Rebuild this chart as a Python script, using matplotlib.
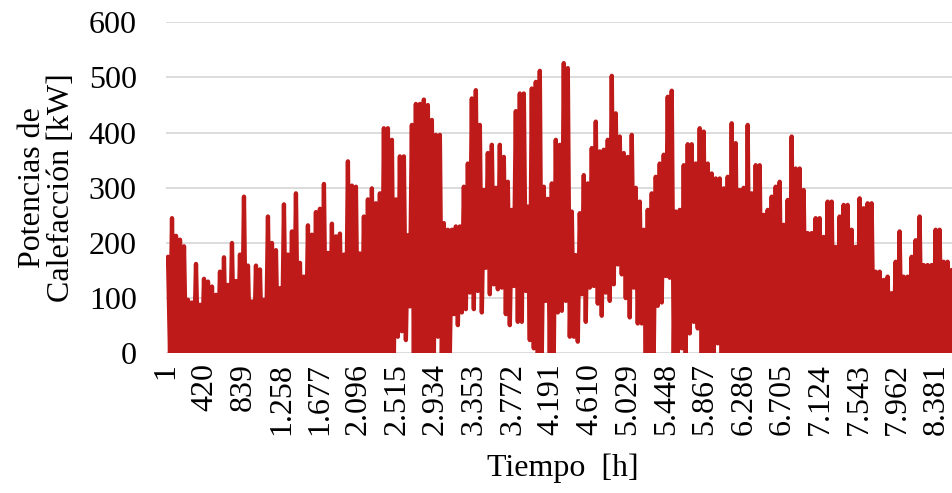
import numpy as np
import matplotlib
matplotlib.use("Agg")
import matplotlib.pyplot as plt

# ---- Data (heating power, kW) ----
# Daily-scale peak values, sampled every ~43.5 h starting at hour ~23
pico = [
    175, 245, 213, 206, 194, 97, 92, 162, 88, 135,
    130, 121, 106, 148, 174, 124, 200, 131, 179, 284,
    159, 94, 159, 152, 97, 248, 200, 187, 118, 270,
    179, 221, 290, 164, 139, 232, 215, 256, 262, 307,
    182, 235, 212, 217, 179, 348, 304, 302, 181, 248,
    279, 299, 272, 290, 408, 408, 387, 279, 357, 357,
    214, 414, 452, 452, 460, 450, 423, 396, 396, 236,
    224, 224, 230, 230, 302, 344, 462, 477, 414, 296,
    363, 378, 300, 378, 356, 311, 260, 439, 471, 471,
    266, 480, 492, 512, 302, 280, 308, 387, 378, 526,
    517, 257, 178, 254, 323, 308, 372, 420, 366, 369,
    387, 503, 435, 393, 363, 356, 396, 300, 275, 224,
    260, 290, 320, 344, 360, 465, 476, 257, 260, 341,
    379, 379, 344, 408, 402, 344, 326, 317, 317, 299,
    320, 417, 381, 296, 300, 414, 290, 341, 341, 251,
    260, 284, 302, 311, 233, 278, 393, 335, 335, 296,
    218, 218, 245, 245, 211, 275, 275, 193, 248, 269,
    269, 224, 193, 281, 263, 272, 272, 148, 148, 133,
    139, 109, 166, 221, 139, 139, 175, 205, 248, 160,
    160, 160, 224, 224, 166, 166, 151,
]
# Minimum values between consecutive peaks
valle = [
    0, 0, 0, 0, 0, 0, 0, 0, 0, 0,
    0, 0, 0, 0, 0, 0, 0, 0, 0, 0,
    0, 0, 0, 0, 0, 0, 0, 0, 0, 0,
    0, 0, 0, 0, 0, 0, 0, 0, 0, 0,
    0, 0, 0, 0, 0, 0, 0, 0, 0, 0,
    0, 0, 0, 0, 0, 0, 0, 30, 40, 24,
    85, 0, 0, 0, 0, 0, 0, 30, 0, 0,
    0, 71, 51, 74, 80, 110, 80, 113, 74, 155,
    107, 125, 116, 119, 71, 51, 122, 57, 57, 113,
    24, 9, 0, 0, 95, 0, 0, 74, 77, 95,
    30, 30, 21, 107, 57, 119, 122, 90, 68, 110,
    95, 125, 161, 143, 100, 65, 119, 54, 54, 0,
    0, 0, 86, 92, 140, 137, 0, 0, 9, 0,
    36, 57, 45, 0, 0, 0, 0, 18, 0, 0,
    0, 0, 0, 0, 0, 0, 0, 0, 0, 0,
    0, 0, 0, 0, 0, 0, 0, 0, 0, 0,
    0, 0, 0, 0, 0, 0, 0, 0, 0, 0,
    0, 0, 0, 0, 0, 0, 0, 0, 0, 0,
    0, 0, 0, 0, 0, 0, 0, 0, 0, 0,
    0, 0, 0, 0, 0, 0, 0,
]
hora_inicio = 22.8
paso_horas = 43.5
total_horas = 8760

etiquetas_x = ["1", "420", "839", "1.258", "1.677", "2.096", "2.515", "2.934",
               "3.353", "3.772", "4.191", "4.610", "5.029", "5.448", "5.867",
               "6.286", "6.705", "7.124", "7.543", "7.962", "8.381"]
pos_x = [1 + 419 * i for i in range(len(etiquetas_x))]
ticks_y = [0, 100, 200, 300, 400, 500, 600]

assert len(pico) == len(valle)

horas = []
valores = []
for k, (p, v) in enumerate(zip(pico, valle)):
    h = hora_inicio + k * paso_horas
    horas += [h, h + paso_horas / 2]
    valores += [p, v]

# ---- Figure ----
plt.rcParams["font.family"] = ["Liberation Serif", "DejaVu Serif"]
W, H = 952, 493
fig = plt.figure(figsize=(W / 100, H / 100), dpi=100)
x0, x1 = 166, 971
y_top, y_bot = 22.3, 353.3
ax = fig.add_axes([x0 / W, (H - y_bot) / H, (x1 - x0) / W, (y_bot - y_top) / H])

ax.plot(horas, valores, color="#BF1A1A", lw=3.1,
        solid_joinstyle="round", solid_capstyle="round", zorder=3)

ax.set_xlim(1, total_horas)
ax.set_ylim(0, 600)
ax.set_yticks(ticks_y)
ax.set_xticks(pos_x)
ax.set_xticklabels(etiquetas_x, rotation=90, va="top", ha="center")
ax.tick_params(axis="both", length=0, labelsize=23, colors="black")
ax.tick_params(axis="y", pad=21)
ax.tick_params(axis="x", pad=7)
ax.grid(axis="y", color="#d9d9d9", lw=1.3, zorder=0)
for s in ax.spines.values():
    s.set_visible(False)
ax.set_axisbelow(True)

fig.text(563 / W, (H - 468) / H, "Tiempo  [h]", fontsize=23,
         ha="center", va="center")
fig.text(47 / W, (H - 188) / H, "Potencias de\nCalefacción [kW]", fontsize=23,
         ha="center", va="center", rotation=90, linespacing=1.0,
         multialignment="center")

fig.savefig("out.png", dpi=100)
